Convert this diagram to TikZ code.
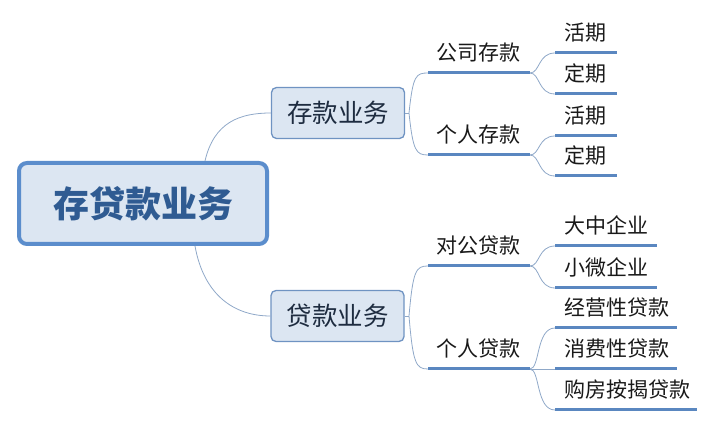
\documentclass[tikz,border=0pt]{standalone}
\usepackage{fontspec}
\setmainfont{Noto Sans CJK SC}
\newfontfamily\cjk{Noto Sans CJK SC}
\definecolor{boxfill}{HTML}{DCE6F2}
\definecolor{rootborder}{HTML}{5B8DCC}
\definecolor{lvborder}{HTML}{6F93C2}
\definecolor{ulblue}{HTML}{5A87C0}
\definecolor{thinline}{HTML}{8FA8C8}
\definecolor{roottext}{HTML}{2F5B92}
\definecolor{lvtext}{HTML}{1E2C40}
\tikzset{
  rootbox/.style={draw=rootborder, line width=4pt, fill=boxfill, rounded corners=8pt, minimum width=248pt, minimum height=81pt, inner sep=0pt, font=\cjk\fontsize{36}{36}\selectfont\bfseries, text=roottext},
  lvbox/.style={draw=lvborder, line width=1.3pt, fill=boxfill, rounded corners=5pt, minimum width=133pt, minimum height=51pt, inner sep=0pt, font=\cjk\fontsize{25.5}{25.5}\selectfont, text=lvtext},
  midtext/.style={inner sep=0pt, font=\cjk\fontsize{21}{21}\selectfont, text=black!90, text height=0.8em, text depth=0.1em},
  leaftext/.style={midtext, anchor=west},
  uline/.style={draw=ulblue, line width=3pt},
  conn/.style={draw=thinline, line width=0.8pt},
}
\begin{document}
\begin{tikzpicture}[x=1pt,y=-1pt]
\useasboundingbox (0,0) rectangle (715,427);
% nodes
\node[rootbox] (root) at (143,203.5) {存贷款业务};
\node[lvbox] (dep) at (338,113) {存款业务};
\node[lvbox] (loan) at (337.5,316) {贷款业务};
% level 2 underline coordinates
\coordinate (gsA) at (428,73);  \coordinate (gsB) at (530,73);
\coordinate (grA) at (428,155); \coordinate (grB) at (530,155);
\coordinate (dgA) at (428,266); \coordinate (dgB) at (530,266);
\coordinate (gdA) at (428,369); \coordinate (gdB) at (530,369);
% leaves
\coordinate (l1A) at (555,53);  \coordinate (l1B) at (617,53);
\coordinate (l2A) at (555,94);  \coordinate (l2B) at (617,94);
\coordinate (l3A) at (555,136); \coordinate (l3B) at (617,136);
\coordinate (l4A) at (555,176); \coordinate (l4B) at (617,176);
\coordinate (l5A) at (555,246); \coordinate (l5B) at (657,246);
\coordinate (l6A) at (555,288); \coordinate (l6B) at (657,288);
\coordinate (l7A) at (555,328); \coordinate (l7B) at (677,328);
\coordinate (l8A) at (555,369); \coordinate (l8B) at (677,369);
\coordinate (l9A) at (555,410); \coordinate (l9B) at (697,410);
% texts
\node[midtext] (t1) at (478,57) {公司存款};
\node[midtext] (t2) at (478,139) {个人存款};
\node[midtext] (t3) at (478,250) {对公贷款};
\node[midtext] (t4) at (478,353) {个人贷款};
\node[leaftext] (s1) at (564,37) {活期};
\node[leaftext] (s2) at (564,78) {定期};
\node[leaftext] (s3) at (564,120) {活期};
\node[leaftext] (s4) at (564,160) {定期};
\node[leaftext] (s5) at (564,230) {大中企业};
\node[leaftext] (s6) at (564,272) {小微企业};
\node[leaftext] (s7) at (564,312) {经营性贷款};
\node[leaftext] (s8) at (564,353) {消费性贷款};
\node[leaftext] (s9) at (564,394) {购房按揭贷款};
% connectors root -> level1
\draw[conn] (root.north) ++(62,0) coordinate (rt) .. controls (214,122) and (240,113) .. (dep.west);
\draw[conn] (root.south) ++(52,0) coordinate (rb) .. controls (204,296) and (235,316) .. (loan.west);
% level1 -> level2
\coordinate (depR) at (409,113);
\draw[conn] (dep.east) -- (depR);
\draw[conn] (depR) .. controls (413,75) and (416,73) .. (gsA);
\draw[conn] (depR) .. controls (413,151) and (416,155) .. (grA);
\coordinate (loanR) at (409,316);
\draw[conn] (loan.east) -- (loanR);
\draw[conn] (loanR) .. controls (413,270) and (416,266) .. (dgA);
\draw[conn] (loanR) .. controls (413,364) and (416,369) .. (gdA);
% level2 -> leaves
\draw[conn] (gsB) .. controls (540,73) and (538,53) .. (l1A);
\draw[conn] (gsB) .. controls (540,73) and (538,94) .. (l2A);
\draw[conn] (grB) .. controls (540,155) and (538,136) .. (l3A);
\draw[conn] (grB) .. controls (540,155) and (538,176) .. (l4A);
\draw[conn] (dgB) .. controls (540,266) and (538,246) .. (l5A);
\draw[conn] (dgB) .. controls (540,266) and (538,288) .. (l6A);
\draw[conn] (gdB) .. controls (540,369) and (536,328) .. (l7A);
\draw[conn] (gdB) -- (l8A);
\draw[conn] (gdB) .. controls (540,369) and (536,410) .. (l9A);
% underlines
\foreach \a/\b in {gsA/gsB,grA/grB,dgA/dgB,gdA/gdB,l1A/l1B,l2A/l2B,l3A/l3B,l4A/l4B,l5A/l5B,l6A/l6B,l7A/l7B,l8A/l8B,l9A/l9B}
  \draw[uline] (\a) -- (\b);
\end{tikzpicture}
\end{document}
